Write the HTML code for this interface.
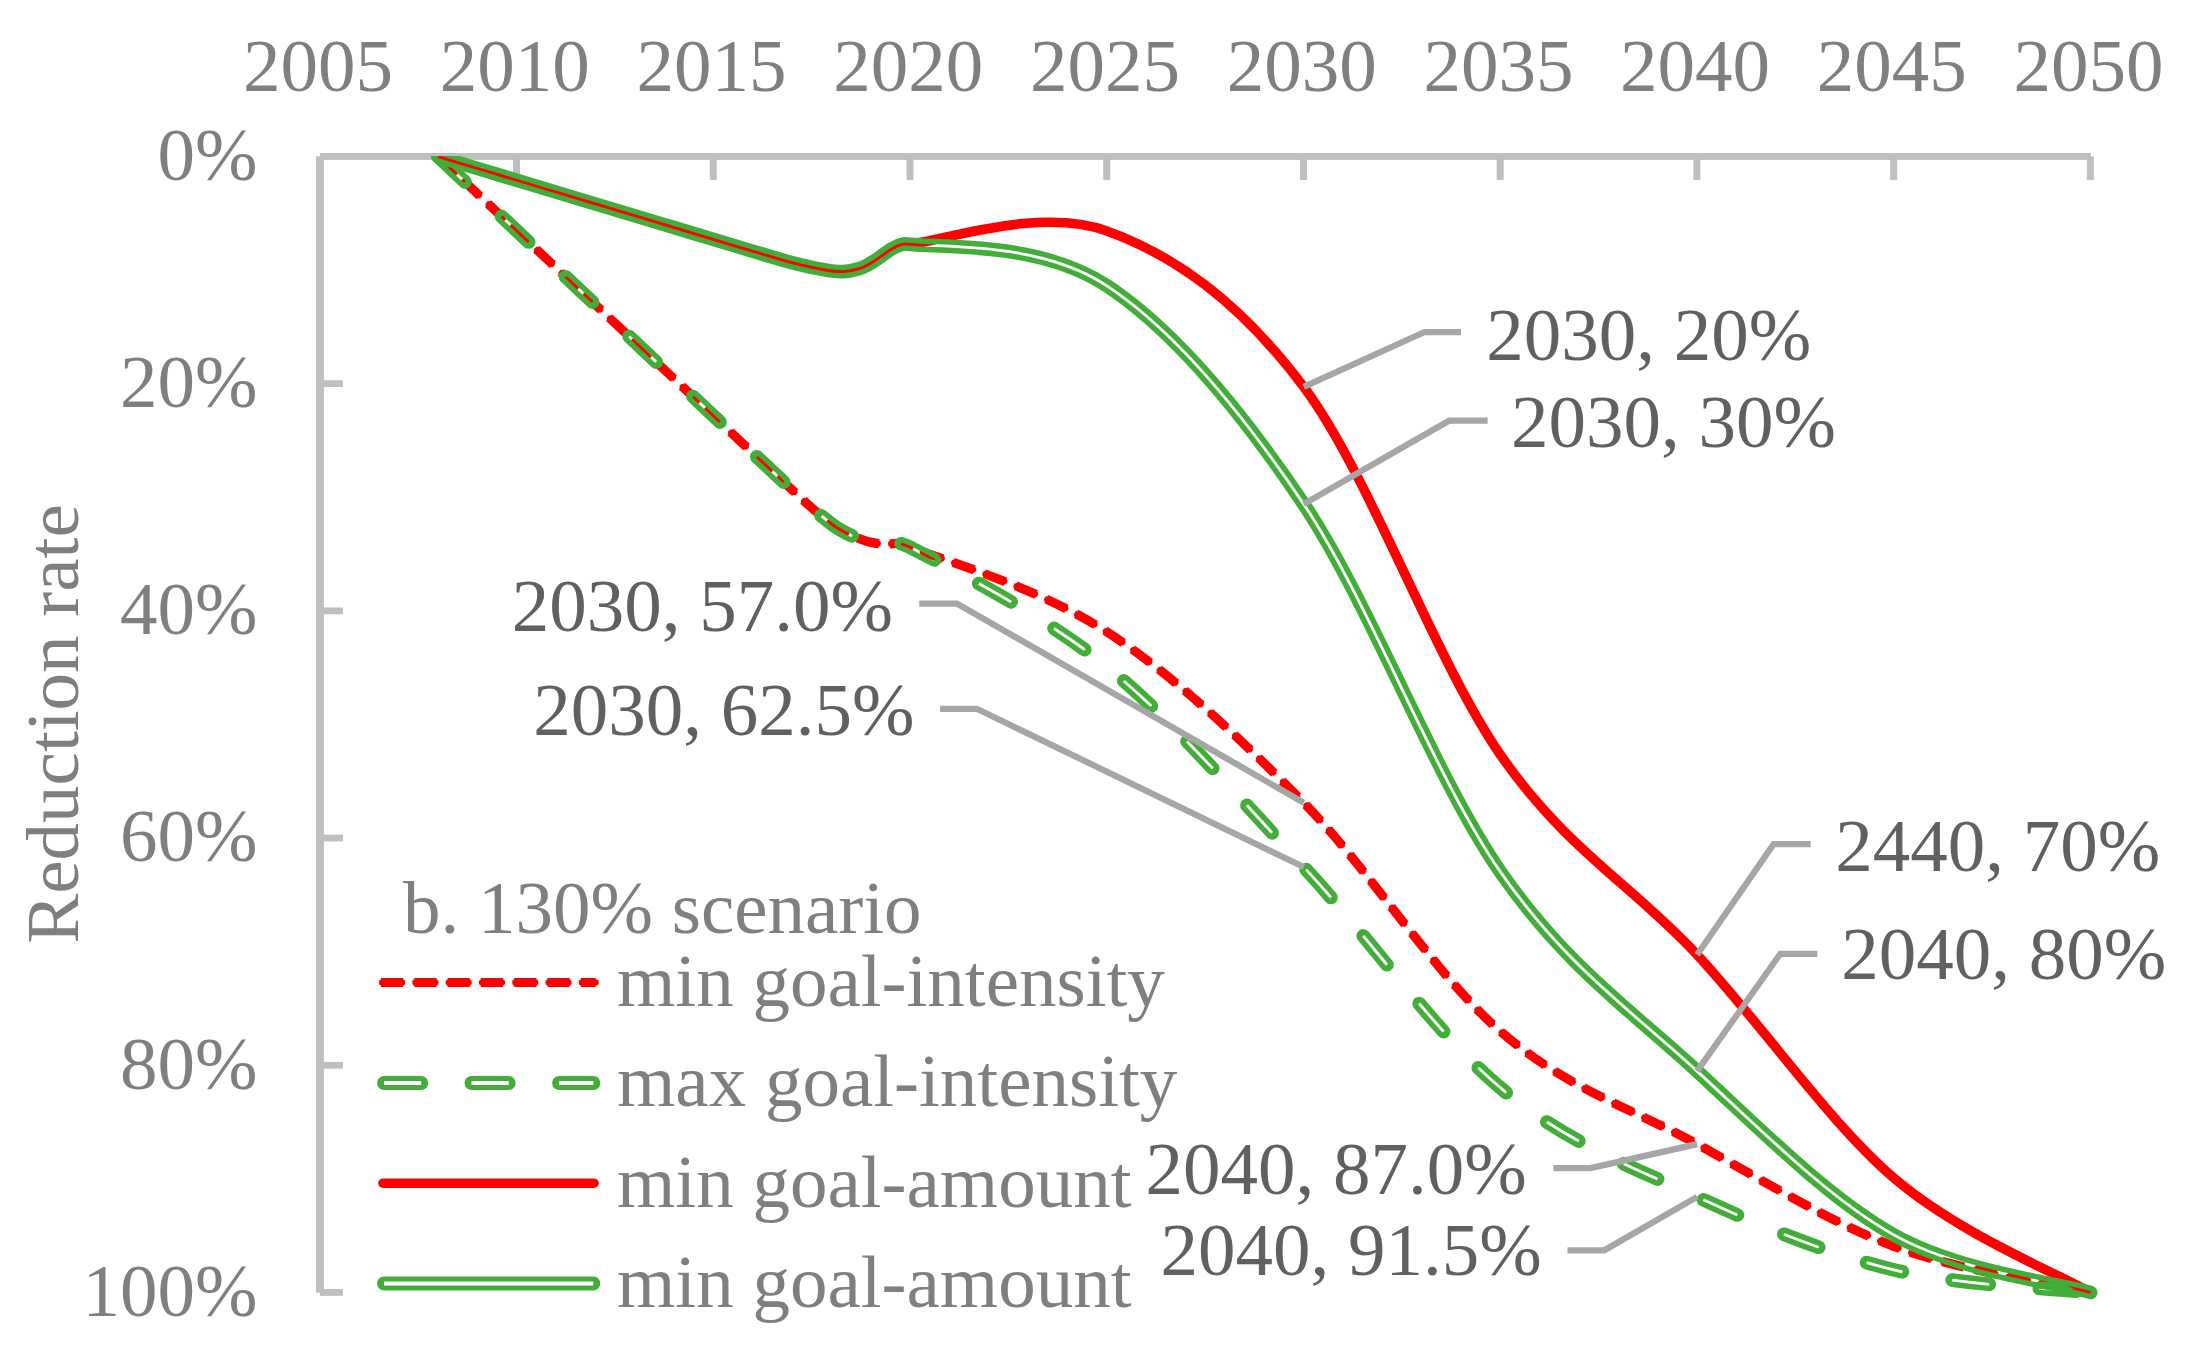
<!DOCTYPE html>
<html><head><meta charset="utf-8"><title>Reduction rate - 130% scenario</title>
<style>
html,body{margin:0;padding:0;background:#fff;}
svg{display:block}
text{font-family:"Liberation Serif",serif;font-size:75px;}
.ax{fill:#7F7F7F}
.dl{fill:#606060}
</style></head><body>
<svg width="2195" height="1347" viewBox="0 0 2195 1347">
<rect width="2195" height="1347" fill="#fff"/>
<g fill="#BFBFBF">
<rect x="316" y="156.20" width="7.9" height="1136.50"/>
<rect x="320" y="153.00" width="1770.87" height="6.9"/>
<rect x="513.03" y="156.45" width="7" height="23.45"/>
<rect x="709.76" y="156.45" width="7" height="23.45"/>
<rect x="906.49" y="156.45" width="7" height="23.45"/>
<rect x="1103.22" y="156.45" width="7" height="23.45"/>
<rect x="1299.95" y="156.45" width="7" height="23.45"/>
<rect x="1496.68" y="156.45" width="7" height="23.45"/>
<rect x="1693.41" y="156.45" width="7" height="23.45"/>
<rect x="1890.14" y="156.45" width="7" height="23.45"/>
<rect x="2086.87" y="156.45" width="7" height="23.45"/>
<rect x="320" y="380.25" width="22.9" height="6.8"/>
<rect x="320" y="607.45" width="22.9" height="6.8"/>
<rect x="320" y="834.65" width="22.9" height="6.8"/>
<rect x="320" y="1061.85" width="22.9" height="6.8"/>
<rect x="320" y="1289.05" width="22.9" height="6.8"/>
</g>
<text class="ax" x="318.0" y="91" text-anchor="middle">2005</text>
<text class="ax" x="514.7" y="91" text-anchor="middle">2010</text>
<text class="ax" x="711.5" y="91" text-anchor="middle">2015</text>
<text class="ax" x="908.2" y="91" text-anchor="middle">2020</text>
<text class="ax" x="1104.9" y="91" text-anchor="middle">2025</text>
<text class="ax" x="1301.7" y="91" text-anchor="middle">2030</text>
<text class="ax" x="1498.4" y="91" text-anchor="middle">2035</text>
<text class="ax" x="1695.1" y="91" text-anchor="middle">2040</text>
<text class="ax" x="1891.8" y="91" text-anchor="middle">2045</text>
<text class="ax" x="2088.6" y="91" text-anchor="middle">2050</text>
<text class="ax" x="257.5" y="179.8" text-anchor="end">0%</text>
<text class="ax" x="257.5" y="406.9" text-anchor="end">20%</text>
<text class="ax" x="257.5" y="634.1" text-anchor="end">40%</text>
<text class="ax" x="257.5" y="861.3" text-anchor="end">60%</text>
<text class="ax" x="257.5" y="1088.5" text-anchor="end">80%</text>
<text class="ax" x="257.5" y="1315.8" text-anchor="end">100%</text>
<text class="ax" transform="translate(78,724) rotate(-90)" text-anchor="middle">Reduction rate</text>
<defs>
<path id="pRS" d="M438.0,156.6C448.0,159.6 474.7,167.6 498.0,174.6C521.3,181.7 551.3,190.7 578.0,198.7C604.7,206.7 631.3,214.7 658.0,222.7C684.7,230.8 721.0,241.7 738.0,246.8C755.0,251.9 750.9,250.7 760.0,253.4C769.1,256.1 781.9,260.1 792.8,262.9C803.7,265.7 817.2,268.6 825.6,270.0C834.0,271.4 837.6,271.8 843.1,271.6C848.6,271.4 854.0,270.2 858.4,268.9C862.8,267.6 865.6,266.0 869.3,264.0C872.9,262.0 876.6,259.4 880.3,256.9C883.9,254.4 887.6,251.3 891.2,249.2C894.8,247.1 898.9,245.1 902.1,244.3C905.3,243.5 906.1,244.9 910.2,244.4C949.5,238.7 1041.3,207.2 1106.9,230.9C1172.5,254.7 1238.1,299.5 1303.7,386.8C1369.2,474.1 1434.8,660.1 1500.4,754.8C1566.0,849.4 1631.5,884.2 1697.1,954.7C1762.7,1025.3 1828.3,1121.6 1893.8,1177.9C1959.4,1234.2 2057.8,1273.4 2090.6,1292.5"/>
<path id="pGD" d="M438.0,156.6C448.0,159.6 474.7,167.6 498.0,174.6C521.3,181.7 551.3,190.7 578.0,198.7C604.7,206.7 631.3,214.7 658.0,222.7C684.7,230.8 721.0,241.7 738.0,246.8C755.0,251.9 750.9,250.7 760.0,253.4C769.1,256.1 781.9,260.1 792.8,262.9C803.7,265.7 817.2,268.6 825.6,270.0C834.0,271.4 837.6,271.8 843.1,271.6C848.6,271.4 854.0,270.2 858.4,268.9C862.8,267.6 865.6,266.0 869.3,264.0C872.9,262.0 876.6,259.4 880.3,256.9C883.9,254.4 887.6,251.3 891.2,249.2C894.8,247.1 898.9,245.1 902.1,244.3C905.3,243.5 906.1,244.2 910.2,244.4C949.5,247.8 1041.3,242.6 1106.9,285.8C1172.5,329.1 1238.1,406.5 1303.7,504.1C1369.2,601.8 1434.8,777.4 1500.4,871.9C1566.0,966.4 1631.5,1010.6 1697.1,1071.1C1762.7,1131.6 1828.3,1198.0 1893.8,1234.9C1959.4,1271.8 2057.8,1282.9 2090.6,1292.5"/>
<path id="pRD" d="M438.0,156.6C448.0,166.0 474.7,191.1 498.0,213.1C521.3,235.1 551.3,263.3 578.0,288.4C604.7,313.5 631.3,338.6 658.0,363.7C684.7,388.8 717.7,419.9 738.0,439.1C758.3,458.2 768.3,467.6 780.0,478.6C791.7,489.6 801.3,498.4 808.4,504.8C815.5,511.2 817.9,513.1 822.6,516.9C827.4,520.7 832.1,524.7 836.9,527.8C841.6,530.9 846.0,533.1 851.1,535.4C856.2,537.7 863.0,540.1 867.5,541.5C872.0,542.9 874.8,543.2 878.4,543.6C882.0,544.0 885.6,543.8 889.3,543.8C892.9,543.8 896.8,543.0 900.3,543.6C903.8,544.2 905.8,545.7 910.2,547.3C949.5,562.0 1041.3,589.3 1106.9,631.9C1172.5,674.5 1238.1,736.1 1303.7,802.7C1369.2,869.3 1434.8,974.5 1500.4,1031.4C1566.0,1088.3 1631.5,1108.3 1697.1,1144.1C1762.7,1179.9 1828.3,1221.7 1893.8,1246.4C1959.4,1271.1 2057.8,1284.8 2090.6,1292.5"/>
<path id="pGH" d="M438.0,156.6C448.0,166.0 474.7,191.1 498.0,213.1C521.3,235.1 551.3,263.3 578.0,288.4C604.7,313.5 631.3,338.6 658.0,363.7C684.7,388.8 717.7,419.9 738.0,439.1C758.3,458.2 768.3,467.6 780.0,478.6C791.7,489.6 801.3,498.4 808.4,504.8C815.5,511.2 817.9,513.1 822.6,516.9C827.4,520.7 832.1,524.7 836.9,527.8C841.6,530.9 846.0,533.1 851.1,535.4C856.2,537.7 863.0,540.1 867.5,541.5C872.0,542.9 874.8,543.2 878.4,543.6C882.0,544.0 885.6,543.8 889.3,543.8C892.9,543.8 896.8,543.0 900.3,543.6C903.8,544.2 905.8,545.3 910.2,547.3C949.5,567.8 1041.3,613.4 1106.9,666.7C1172.5,720.0 1238.1,796.8 1303.7,867.0C1369.2,937.1 1434.8,1032.8 1500.4,1087.8C1566.0,1142.8 1631.5,1166.5 1697.1,1196.9C1762.7,1227.2 1828.3,1253.8 1893.8,1269.8C1959.4,1285.7 2057.8,1288.7 2090.6,1292.5"/>
<path id="l2" d="M384,1083 H593.4"/>
<path id="l4" d="M384,1283.5 H593.3"/>
<mask id="mGH" maskUnits="userSpaceOnUse" x="0" y="0" width="2195" height="1347"><rect width="2195" height="1347" fill="#fff"/>
<use href="#pGH" fill="none" stroke="#000" stroke-width="2.8" stroke-dasharray="37.2 50.3" stroke-linecap="butt"/>
<use href="#l2" fill="none" stroke="#000" stroke-width="4.1" stroke-dasharray="37.2 50.3" stroke-linecap="butt"/></mask>
<mask id="mGD" maskUnits="userSpaceOnUse" x="0" y="0" width="2195" height="1347"><rect width="2195" height="1347" fill="#fff"/>
<use href="#pGD" fill="none" stroke="#000" stroke-width="2.8" stroke-linecap="butt"/>
<use href="#l4" fill="none" stroke="#000" stroke-width="4.1" stroke-linecap="butt"/></mask>
<clipPath id="plot"><rect x="300" y="155.9" width="1900" height="1148.0"/></clipPath>
</defs>
<g clip-path="url(#plot)">
<use href="#pRD" fill="none" stroke="#FF0000" stroke-width="9.2" stroke-dasharray="22.2 11.1" stroke-dashoffset="-2" stroke-linecap="butt"/><use href="#pRD" fill="none" stroke="#FF0000" stroke-width="6.4" stroke-dasharray="19.8 13.5" stroke-dashoffset="-3.2" stroke-linecap="round"/>
<g mask="url(#mGH)"><use href="#pGH" fill="none" stroke="#42AD39" stroke-width="13.7" stroke-dasharray="37.2 50.3" stroke-linecap="round"/><use href="#l2" fill="none" stroke="#42AD39" stroke-width="13.9" stroke-dasharray="37.2 50.3" stroke-linecap="round"/></g>
<use href="#pRS" fill="none" stroke="#FF0000" stroke-width="9.6" stroke-linecap="round" stroke-linejoin="round"/>
<g mask="url(#mGD)"><use href="#pGD" fill="none" stroke="#42AD39" stroke-width="13.7" stroke-linecap="round" stroke-linejoin="round"/><use href="#l4" fill="none" stroke="#42AD39" stroke-width="13.9" stroke-linecap="round"/></g>
</g>
<g stroke="#A6A6A6" stroke-width="6.25" fill="none" stroke-linejoin="miter">
<path d="M1303.7,386.8 L1424.6,332.0 L1461.0,332.0"/>
<path d="M1303.7,504.1 L1449.0,420.7 L1487.6,420.7"/>
<path d="M1303.7,802.7 L956.9,603.5 L919.3,603.5"/>
<path d="M1303.7,867.0 L976.9,708.8 L940.1,708.8"/>
<path d="M1697.1,954.7 L1773.6,844.2 L1810.6,844.2"/>
<path d="M1697.1,1071.1 L1780.3,953.8 L1817.3,953.8"/>
<path d="M1697.1,1144.1 L1590.5,1168.1 L1553.4,1168.1"/>
<path d="M1697.1,1196.9 L1604.3,1250.3 L1567.5,1250.3"/>
</g>
<path id="l1" d="M379,982.5 H595.6" fill="none"/>
<use href="#l1" fill="none" stroke="#FF0000" stroke-width="9.2" stroke-dasharray="22.2 11.1" stroke-dashoffset="-2" stroke-linecap="butt"/><use href="#l1" fill="none" stroke="#FF0000" stroke-width="6.4" stroke-dasharray="19.8 13.5" stroke-dashoffset="-3.2" stroke-linecap="round"/>
<path d="M383,1183.2 H594" fill="none" stroke="#FF0000" stroke-width="9.6" stroke-linecap="round"/>
<text class="ax" x="403" y="932.5">b. 130% scenario</text>
<text class="ax" x="617" y="1006.3">min goal-intensity</text>
<text class="ax" x="617" y="1106.4">max goal-intensity</text>
<text class="ax" x="617" y="1206.5">min goal-amount</text>
<text class="ax" x="617" y="1306.6">min goal-amount</text>
<text class="dl" x="1486.3" y="359.7">2030, 20%</text>
<text class="dl" x="1511.0" y="447.2">2030, 30%</text>
<text class="dl" x="511.8" y="630.6">2030, 57.0%</text>
<text class="dl" x="533.3" y="735.2">2030, 62.5%</text>
<text class="dl" x="1835.3" y="870.5">2440, 70%</text>
<text class="dl" x="1841.3" y="979.3">2040, 80%</text>
<text class="dl" x="1145.4" y="1194.3">2040, 87.0%</text>
<text class="dl" x="1160.4" y="1275.4">2040, 91.5%</text>
</svg></body></html>
